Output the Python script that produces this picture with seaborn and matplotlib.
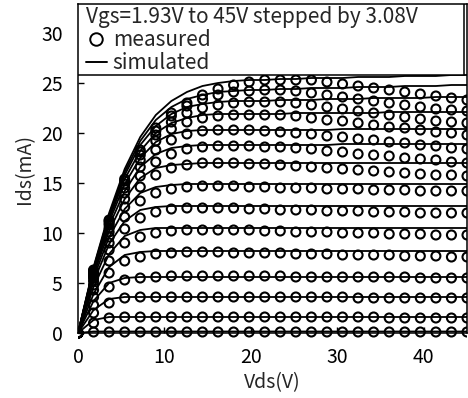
import seaborn as sns
import matplotlib.pyplot as plt
from matplotlib.lines import Line2D
from matplotlib.patches import Rectangle
import numpy as np
import pandas as pd

# Vds sweep (V) shared by measured and simulated curves
vds = [0, 1.8, 3.6, 5.4, 7.2, 9.0, 10.8, 12.6, 14.4, 16.2, 18.0, 19.8, 21.6,
       23.4, 25.2, 27.0, 28.8, 30.6, 32.4, 34.2, 36.0, 37.8, 39.6, 41.4, 43.2, 45.0]

# measured Ids (mA), one list per Vgs step (low -> high)
meas_1 = [0, 0.1, 0.1, 0.1, 0.1, 0.1, 0.1, 0.1, 0.1, 0.1, 0.1, 0.1, 0.1, 0.1, 0.1, 0.1, 0.1, 0.1, 0.1, 0.1, 0.1, 0.1, 0.1, 0.1, 0.1, 0.1]
meas_2 = [0, 1.0, 1.5, 1.6, 1.6, 1.6, 1.6, 1.6, 1.6, 1.6, 1.6, 1.6, 1.6, 1.6, 1.6, 1.6, 1.6, 1.6, 1.6, 1.6, 1.5, 1.5, 1.5, 1.5, 1.5, 1.5]
meas_3 = [0, 2.0, 3.0, 3.5, 3.6, 3.6, 3.6, 3.6, 3.6, 3.6, 3.6, 3.6, 3.6, 3.6, 3.6, 3.6, 3.6, 3.6, 3.5, 3.5, 3.5, 3.5, 3.5, 3.5, 3.5, 3.5]
meas_4 = [0, 2.8, 4.6, 5.3, 5.5, 5.6, 5.7, 5.7, 5.7, 5.7, 5.7, 5.7, 5.7, 5.7, 5.6, 5.6, 5.6, 5.6, 5.6, 5.6, 5.6, 5.6, 5.5, 5.5, 5.5, 5.5]
meas_5 = [0, 3.6, 6.0, 7.2, 7.6, 7.9, 8.0, 8.1, 8.1, 8.1, 8.0, 8.0, 8.0, 8.0, 7.9, 7.9, 7.9, 7.8, 7.8, 7.8, 7.8, 7.7, 7.7, 7.7, 7.6, 7.6]
meas_6 = [0, 4.3, 7.2, 9.0, 9.6, 10.0, 10.2, 10.3, 10.3, 10.3, 10.3, 10.3, 10.2, 10.2, 10.1, 10.1, 10.1, 10.0, 10.0, 10.0, 9.9, 9.9, 9.9, 9.8, 9.8, 9.8]
meas_7 = [0, 4.8, 8.3, 10.4, 11.5, 12.1, 12.4, 12.5, 12.5, 12.5, 12.5, 12.4, 12.4, 12.3, 12.3, 12.3, 12.2, 12.2, 12.2, 12.1, 12.1, 12.1, 12.0, 12.0, 12.0, 12.0]
meas_8 = [0, 5.2, 9.0, 11.6, 13.2, 14.0, 14.4, 14.6, 14.7, 14.7, 14.7, 14.6, 14.6, 14.5, 14.5, 14.5, 14.4, 14.4, 14.4, 14.3, 14.3, 14.3, 14.2, 14.2, 14.2, 14.2]
meas_9 = [0, 5.5, 9.6, 12.6, 14.6, 15.8, 16.5, 16.8, 17.0, 17.0, 17.0, 16.9, 16.9, 16.8, 16.7, 16.6, 16.5, 16.4, 16.3, 16.2, 16.1, 16.0, 15.9, 15.8, 15.8, 15.7]
meas_10 = [0, 5.7, 10.1, 13.4, 15.7, 17.1, 17.9, 18.4, 18.6, 18.7, 18.7, 18.7, 18.6, 18.6, 18.5, 18.4, 18.2, 18.1, 17.9, 17.8, 17.7, 17.5, 17.4, 17.3, 17.1, 17.0]
meas_11 = [0, 5.9, 10.5, 14.0, 16.6, 18.3, 19.3, 19.9, 20.2, 20.3, 20.3, 20.3, 20.2, 20.1, 20.0, 19.9, 19.7, 19.6, 19.4, 19.3, 19.1, 19.0, 18.8, 18.7, 18.5, 18.4]
meas_12 = [0, 6.0, 10.8, 14.5, 17.3, 19.2, 20.4, 21.1, 21.5, 21.7, 21.8, 21.8, 21.8, 21.8, 21.7, 21.5, 21.3, 21.2, 21.0, 20.8, 20.6, 20.5, 20.3, 20.1, 20.0, 19.8]
meas_13 = [0, 6.1, 11.0, 14.9, 17.8, 19.8, 21.1, 22.0, 22.5, 22.8, 23.0, 23.1, 23.1, 23.1, 23.0, 22.8, 22.6, 22.4, 22.2, 22.0, 21.8, 21.6, 21.4, 21.2, 21.1, 21.0]
meas_14 = [0, 6.2, 11.2, 15.2, 18.1, 20.2, 21.7, 22.7, 23.4, 23.8, 24.1, 24.2, 24.3, 24.3, 24.2, 24.0, 23.8, 23.6, 23.4, 23.2, 23.0, 22.8, 22.6, 22.4, 22.3, 22.2]
meas_15 = [0, 6.3, 11.3, 15.4, 18.3, 20.5, 22.0, 23.0, 23.8, 24.4, 24.8, 25.1, 25.3, 25.3, 25.3, 25.3, 25.1, 24.9, 24.7, 24.5, 24.3, 24.1, 23.9, 23.7, 23.5, 23.3]

# simulated Ids (mA)
sim_1 = [0, 0.15, 0.15, 0.15, 0.15, 0.15, 0.15, 0.15, 0.15, 0.15, 0.15, 0.15, 0.15, 0.15, 0.15, 0.15, 0.15, 0.15, 0.15, 0.15, 0.15, 0.15, 0.15, 0.15, 0.15, 0.15]
sim_2 = [0, 1.3, 1.6, 1.6, 1.6, 1.6, 1.6, 1.6, 1.6, 1.6, 1.6, 1.6, 1.6, 1.6, 1.6, 1.6, 1.6, 1.6, 1.6, 1.6, 1.6, 1.6, 1.6, 1.6, 1.6, 1.6]
sim_3 = [0, 2.3, 3.4, 3.6, 3.6, 3.6, 3.6, 3.6, 3.6, 3.6, 3.6, 3.6, 3.6, 3.6, 3.6, 3.6, 3.6, 3.6, 3.6, 3.6, 3.6, 3.6, 3.6, 3.6, 3.6, 3.6]
sim_4 = [0, 3.2, 5.0, 5.5, 5.6, 5.6, 5.6, 5.6, 5.6, 5.6, 5.6, 5.6, 5.6, 5.6, 5.6, 5.6, 5.6, 5.6, 5.6, 5.6, 5.6, 5.6, 5.6, 5.6, 5.6, 5.6]
sim_5 = [0, 3.9, 6.6, 7.8, 8.1, 8.2, 8.2, 8.2, 8.2, 8.2, 8.2, 8.2, 8.2, 8.2, 8.2, 8.2, 8.2, 8.2, 8.2, 8.2, 8.2, 8.2, 8.2, 8.2, 8.2, 8.2]
sim_6 = [0, 4.6, 7.9, 9.7, 10.3, 10.5, 10.5, 10.5, 10.5, 10.5, 10.5, 10.5, 10.5, 10.5, 10.5, 10.5, 10.5, 10.5, 10.5, 10.5, 10.5, 10.5, 10.5, 10.5, 10.5, 10.5]
sim_7 = [0, 5.1, 8.9, 11.2, 12.3, 12.6, 12.7, 12.7, 12.7, 12.7, 12.7, 12.7, 12.7, 12.7, 12.7, 12.7, 12.7, 12.7, 12.7, 12.7, 12.7, 12.7, 12.7, 12.7, 12.7, 12.7]
sim_8 = [0, 5.5, 9.6, 12.4, 14.0, 14.6, 14.8, 14.9, 14.9, 14.9, 14.9, 14.9, 14.9, 14.9, 14.9, 14.9, 14.9, 14.9, 14.9, 14.9, 14.9, 14.9, 14.9, 14.9, 14.9, 14.9]
sim_9 = [0, 5.8, 10.2, 13.4, 15.5, 16.5, 16.8, 16.9, 17.0, 17.0, 17.0, 17.0, 17.0, 17.0, 17.0, 17.0, 17.0, 17.0, 17.0, 17.0, 17.0, 17.0, 17.0, 17.0, 17.0, 17.0]
sim_10 = [0, 6.0, 10.7, 14.2, 16.6, 17.9, 18.5, 18.7, 18.8, 18.8, 18.8, 18.8, 18.8, 18.8, 18.8, 18.8, 18.8, 18.9, 18.9, 18.9, 18.9, 18.9, 18.9, 18.9, 18.9, 18.9]
sim_11 = [0, 6.2, 11.1, 14.9, 17.5, 19.1, 19.9, 20.2, 20.3, 20.3, 20.3, 20.3, 20.3, 20.3, 20.3, 20.3, 20.3, 20.4, 20.4, 20.4, 20.4, 20.4, 20.4, 20.4, 20.4, 20.4]
sim_12 = [0, 6.3, 11.4, 15.4, 18.2, 20.0, 21.0, 21.5, 21.8, 21.9, 21.9, 21.9, 21.9, 21.9, 22.0, 22.0, 22.0, 22.0, 22.0, 22.0, 22.1, 22.1, 22.1, 22.1, 22.1, 22.1]
sim_13 = [0, 6.4, 11.6, 15.8, 18.8, 20.7, 21.9, 22.6, 22.9, 23.1, 23.2, 23.2, 23.2, 23.3, 23.3, 23.3, 23.4, 23.4, 23.4, 23.5, 23.5, 23.5, 23.5, 23.6, 23.6, 23.6]
sim_14 = [0, 6.5, 11.8, 16.1, 19.2, 21.3, 22.6, 23.4, 23.8, 24.1, 24.2, 24.3, 24.3, 24.4, 24.4, 24.5, 24.5, 24.5, 24.6, 24.6, 24.6, 24.7, 24.7, 24.7, 24.8, 24.8]
sim_15 = [0, 6.6, 12.0, 16.4, 19.6, 21.8, 23.2, 24.1, 24.7, 25.0, 25.2, 25.3, 25.3, 25.4, 25.4, 25.5, 25.5, 25.5, 25.6, 25.6, 25.6, 25.7, 25.7, 25.7, 25.8, 25.8]

measured = [meas_1, meas_2, meas_3, meas_4, meas_5, meas_6, meas_7, meas_8,
            meas_9, meas_10, meas_11, meas_12, meas_13, meas_14, meas_15]
simulated = [sim_1, sim_2, sim_3, sim_4, sim_5, sim_6, sim_7, sim_8,
             sim_9, sim_10, sim_11, sim_12, sim_13, sim_14, sim_15]

meas_df = pd.DataFrame([(k, v, i) for k, curve in enumerate(measured) for v, i in zip(vds, curve)],
                       columns=["curve", "Vds", "Ids"])
sim_df = pd.DataFrame([(k, v, i) for k, curve in enumerate(simulated) for v, i in zip(vds, curve)],
                      columns=["curve", "Vds", "Ids"])

sns.set_style("ticks")
plt.rcParams['font.family'] = ['Noto Sans CJK JP', 'DejaVu Sans']
plt.rcParams['font.size'] = 14

fig = plt.figure(figsize=(4.68, 3.98), dpi=100)
ax = fig.add_axes([78 / 468, 1 - 333 / 398, (467 - 78) / 468, (333 - 4) / 398])

sns.lineplot(data=sim_df, x="Vds", y="Ids", units="curve", estimator=None,
             color="black", lw=1.3, legend=False, ax=ax)
sns.scatterplot(data=meas_df, x="Vds", y="Ids", marker="o", s=42,
                linewidth=1.5, legend=False, ax=ax)
pts = ax.collections[-1]
pts.set_facecolor("none")
pts.set_edgecolor("black")
# let the bottom row of circles show below the x axis, but keep the right edge clipped
pts.set_clip_path(Rectangle((0, -0.05), 1, 1.05, transform=ax.transAxes))

ax.set_xlim(0, 45)
ax.set_ylim(0, 32.9)
ax.set_xticks([0, 10, 20, 30, 40])
ax.set_yticks([0, 5, 10, 15, 20, 25, 30])
ax.tick_params(direction="in", length=4, width=1, colors="black", labelsize=14)
ax.tick_params(axis="y", pad=11)
ax.tick_params(axis="x", pad=10)
for s in ax.spines.values():
    s.set_linewidth(1.1)
    s.set_color("black")
ax.set_xlabel("Vds(V)", fontsize=14, labelpad=3)
ax.set_ylabel("Ids(mA)", fontsize=14, labelpad=4)

# white box behind the legend text (top-left block of the plot)
box = Rectangle((0, 0.784), 0.992, 0.216, transform=ax.transAxes,
                facecolor="white", edgecolor="black", lw=1.1, zorder=4)
ax.add_patch(box)

handles = [Line2D([], [], ls="none", marker="o", mfc="none", mec="black", ms=9, mew=1.4),
           Line2D([], [], color="black", lw=1.4)]
leg = ax.legend(handles, ["measured", "simulated"], title="Vgs=1.93V to 45V stepped by 3.08V",
                loc="upper left", bbox_to_anchor=(0.02, 0.993), borderaxespad=0,
                frameon=False, handlelength=1.0, handletextpad=0.3,
                labelspacing=0.04, borderpad=0.0,
                fontsize=15, title_fontsize=15, alignment="left")
leg.set_zorder(5)

fig.savefig("out.png", dpi=100)
